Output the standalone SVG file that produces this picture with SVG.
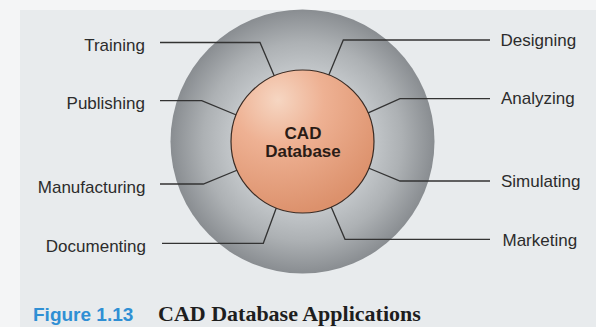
<svg xmlns="http://www.w3.org/2000/svg" width="596" height="327" viewBox="0 0 596 327">
  <defs>
    <radialGradient id="ringFill" cx="302.5" cy="141.5" r="132" gradientUnits="userSpaceOnUse">
      <stop offset="0.5" stop-color="#c6cacd"/>
      <stop offset="0.75" stop-color="#adb1b4"/>
      <stop offset="1" stop-color="#898d91"/>
    </radialGradient>
    <radialGradient id="coreFill" cx="278" cy="100" r="115" gradientUnits="userSpaceOnUse">
      <stop offset="0" stop-color="#f6d6c2"/>
      <stop offset="0.4" stop-color="#eeb193"/>
      <stop offset="1" stop-color="#dc916c"/>
    </radialGradient>
    <style>
      .label { font-family: "Liberation Sans", Arial, sans-serif; font-size: 17px; fill: #2c2c2c; }
      .left { text-anchor: end; }
      .core-text { font-family: "Liberation Sans", Arial, sans-serif; font-size: 17px; font-weight: bold; fill: #2a1c16; text-anchor: middle; }
      .wire { fill: none; stroke: #333333; stroke-width: 1.3; stroke-linejoin: miter; }
    </style>
  </defs>

  <!-- page background -->
  <rect x="0" y="0" width="596" height="327" fill="#f4f5f6"/>
  <rect x="20" y="10" width="576" height="317" fill="#e8ebed"/>

  <!-- outer gray ring -->
  <circle id="ring" cx="302.5" cy="141.5" r="132" fill="url(#ringFill)"/>

  <!-- connectors from the labels to the database -->
  <g id="connectors" class="wire">
    <path d="M160,42.5 H260 L276,80"/>
    <path d="M160,100.7 H201.7 L240,116.5"/>
    <path d="M160,184 H203.3 L240,169"/>
    <path d="M162,243.3 H263.3 L277,206"/>
    <path d="M490,40 H343.3 L328,77"/>
    <path d="M490,98.7 H400 L366,113.8"/>
    <path d="M490,181 H400 L366,167"/>
    <path d="M490,239.3 H345 L329.5,203"/>
  </g>

  <!-- central database -->
  <g id="cad-database">
    <circle cx="302.5" cy="141.5" r="71.5" fill="url(#coreFill)" stroke="#3a2a22" stroke-width="1.2"/>
    <text class="core-text" x="303" y="138.5">CAD</text>
    <text class="core-text" x="303" y="156.5">Database</text>
  </g>

  <g id="training"><text class="label left" x="145" y="51">Training</text></g>
  <g id="publishing"><text class="label left" x="145" y="109">Publishing</text></g>
  <g id="manufacturing"><text class="label left" x="145.5" y="193">Manufacturing</text></g>
  <g id="documenting"><text class="label left" x="146" y="252">Documenting</text></g>
  <g id="designing"><text class="label" x="500.5" y="45.5">Designing</text></g>
  <g id="analyzing"><text class="label" x="501" y="104">Analyzing</text></g>
  <g id="simulating"><text class="label" x="501" y="187">Simulating</text></g>
  <g id="marketing"><text class="label" x="502.5" y="245.5">Marketing</text></g>

  <!-- caption -->
  <g id="caption">
    <text x="33" y="321" font-family="'Liberation Sans', Arial, sans-serif" font-size="19" font-weight="bold" fill="#2f8fd4">Figure 1.13</text>
    <text x="158" y="321" font-family="'Liberation Serif', 'Times New Roman', serif" font-size="22" font-weight="bold" fill="#1e1e1e">CAD Database Applications</text>
  </g>
</svg>
